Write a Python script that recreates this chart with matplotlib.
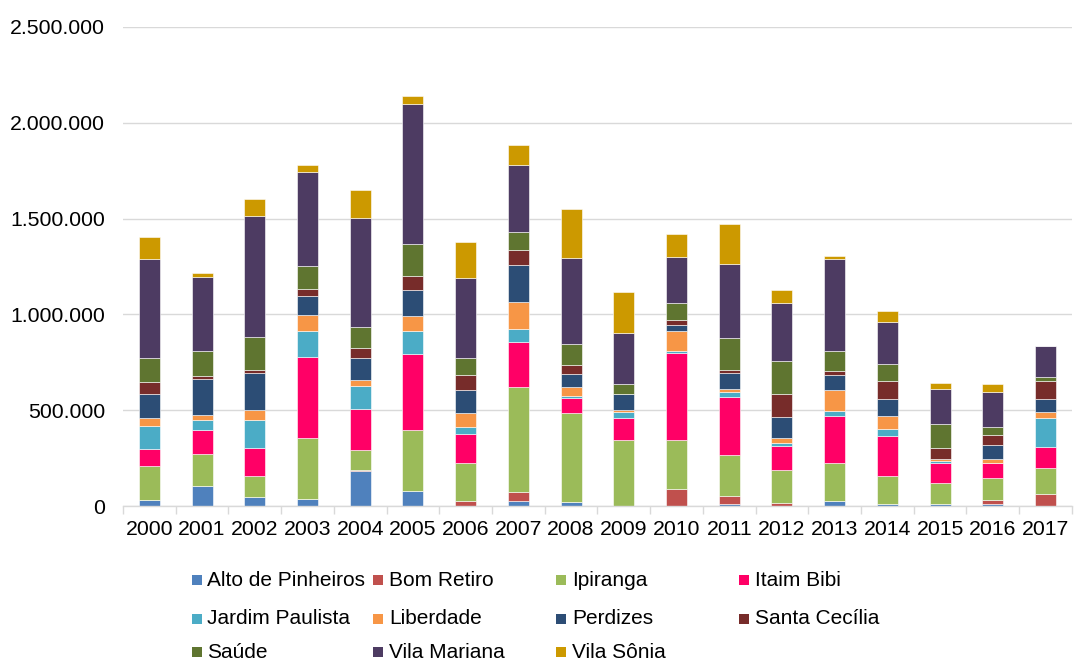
import matplotlib
matplotlib.use("Agg")
import matplotlib.pyplot as plt
import numpy as np
from matplotlib.patches import Rectangle
from matplotlib.ticker import FuncFormatter, FixedLocator

plt.rcParams["font.family"] = ["Liberation Sans", "DejaVu Sans"]

# ---------------------------------------------------------------
# data (in thousands)
# ---------------------------------------------------------------
years = [str(y) for y in range(2000, 2018)]

alto_de_pinheiros = [33, 104, 47, 37, 181, 78, 0, 26, 21, 0, 0, 12, 0, 24, 10, 8, 12, 0]
bom_retiro        = [0, 0, 0, 0, 9, 0, 28, 49, 0, 0, 89, 38, 16, 0, 0, 0, 19, 63]
ipiranga          = [177, 169, 111, 316, 102, 318, 195, 544, 462, 346, 257, 214, 172, 199, 147, 114, 113, 137]
itaim_bibi        = [87, 122, 146, 426, 212, 397, 153, 237, 80, 113, 450, 305, 125, 247, 208, 104, 82, 108]
jardim_paulista   = [120, 54, 146, 134, 122, 122, 36, 67, 13, 31, 13, 24, 17, 26, 35, 9, 0, 151]
liberdade         = [40, 24, 53, 82, 33, 76, 75, 140, 45, 11, 106, 19, 23, 111, 68, 8, 17, 31]
perdizes          = [129, 191, 191, 102, 115, 136, 120, 196, 68, 83, 31, 84, 113, 78, 92, 0, 75, 68]
santa_cecilia     = [61, 12, 17, 35, 52, 73, 76, 77, 48, 0, 24, 15, 118, 18, 92, 60, 52, 94]
saude             = [127, 134, 172, 122, 110, 169, 87, 95, 110, 54, 91, 167, 174, 106, 87, 127, 44, 23]
vila_mariana      = [515, 385, 630, 490, 566, 728, 419, 348, 447, 266, 238, 384, 303, 480, 223, 180, 181, 161]
vila_sonia        = [114, 21, 87, 35, 145, 42, 190, 106, 257, 211, 122, 211, 66, 14, 55, 32, 40, 0]

series = [
    ("Alto de Pinheiros", alto_de_pinheiros, "#4F81BD"),
    ("Bom Retiro",        bom_retiro,        "#C0504D"),
    ("Ipiranga",          ipiranga,          "#9BBB59"),
    ("Itaim Bibi",        itaim_bibi,        "#FF0066"),
    ("Jardim Paulista",   jardim_paulista,   "#4BACC6"),
    ("Liberdade",         liberdade,         "#F79646"),
    ("Perdizes",          perdizes,          "#2C4D75"),
    ("Santa Cecília",     santa_cecilia,     "#772C2A"),
    ("Saúde",             saude,             "#5F7530"),
    ("Vila Mariana",      vila_mariana,      "#4D3B62"),
    ("Vila Sônia",        vila_sonia,        "#CC9900"),
]

# ---------------------------------------------------------------
# figure
# ---------------------------------------------------------------
fig = plt.figure(figsize=(10.74, 6.66), dpi=100)
ax = fig.add_axes([0.1145, 0.2402, 0.8835, 0.7193])

x = np.arange(len(years))
bottom = np.zeros(len(years))
for name, vals, color in series:
    v = np.array(vals, dtype=float) * 1000
    ax.bar(x, v, width=0.4, bottom=bottom, color=color,
           edgecolor="#ffffff", linewidth=0.4)
    bottom += v

ax.set_xlim(-0.5, len(years) - 0.5)
ax.set_ylim(0, 2_500_000)
ax.set_yticks(np.arange(0, 2_500_001, 500_000))
ax.yaxis.set_major_formatter(FuncFormatter(lambda v, _: f"{v:,.0f}".replace(",", ".")))
ax.set_xticks(x)
ax.set_xticklabels(years)
ax.xaxis.set_minor_locator(FixedLocator(np.arange(-0.5, len(years), 1.0)))

ax.grid(axis="y", color="#d9d9d9", linewidth=1.0)
ax.set_axisbelow(True)
for side in ["top", "right", "left"]:
    ax.spines[side].set_visible(False)
ax.spines["bottom"].set_color("#d9d9d9")
ax.spines["bottom"].set_linewidth(1.0)

ax.tick_params(axis="y", length=0, pad=13, labelsize=15.3, labelcolor="#000000")
ax.tick_params(axis="x", which="major", length=0, pad=10, labelsize=15.3, labelcolor="#000000")
ax.tick_params(axis="x", which="minor", length=6, color="#d9d9d9", width=1.0)

# ---------------------------------------------------------------
# legend, laid out like the spreadsheet one (4 columns)
# ---------------------------------------------------------------
W, H = 1074, 666
marker_x = [192, 373, 556, 739]
text_x = [207, 389, 572, 755]
row_y = [580, 619, 652]
for i, (name, _, color) in enumerate(series):
    r, c = divmod(i, 4)
    fig.patches.append(Rectangle((marker_x[c] / W, 1 - (row_y[r] + 5) / H),
                                 10 / W, 10 / H, transform=fig.transFigure,
                                 facecolor=color, edgecolor="none"))
    fig.text(text_x[c] / W, 1 - row_y[r] / H, name, fontsize=15,
             va="center", ha="left", color="#000000")

fig.savefig("out.png", dpi=100)
